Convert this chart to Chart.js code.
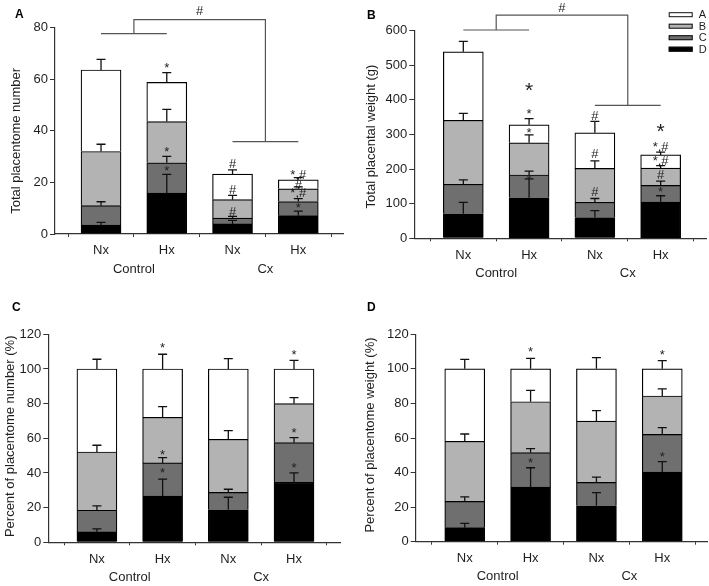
<!DOCTYPE html>
<html>
<head>
<meta charset="utf-8">
<script src="https://cdn.jsdelivr.net/npm/chart.js@4.4.1/dist/chart.umd.min.js"></script>
<style>
  html, body { margin: 0; padding: 0; background: #fff; }
  #fig { position: relative; width: 709px; height: 586px; }
  .panel { position: absolute; }
</style>
</head>
<body>
<div id="fig">
  <div class="panel" style="left:0;top:0;width:355px;height:290px"><canvas id="chartA"></canvas></div>
  <div class="panel" style="left:355px;top:0;width:354px;height:290px"><canvas id="chartB"></canvas></div>
  <div class="panel" style="left:0;top:290px;width:355px;height:296px"><canvas id="chartC"></canvas></div>
  <div class="panel" style="left:355px;top:290px;width:354px;height:296px"><canvas id="chartD"></canvas></div>
</div>
<script>
// categories
const xLabels = ['Nx', 'Hx', 'Nx', 'Hx'];
const groupLabels = ['Control', 'Cx'];
const layerNames = ['D', 'C', 'B', 'A']; // bottom -> top of each stack

// A: total placentome number
const numD = [3.5, 15.9, 3.9, 7.1];
const numC = [7.5, 11.7, 2.3, 5.5];
const numB = [21.0, 16.0, 7.1, 4.9];
const numA = [31.6, 15.2, 9.9, 3.5];
const numErrD = [1.0, 7.2, 1.4, 1.8];
const numErrC = [1.5, 2.5, 0.6, 1.1];
const numErrB = [2.8, 4.7, 1.7, 0.8];
const numErrA = [4.1, 3.8, 1.7, 0.9];

// B: total placental weight (g)
const wtD = [71, 117, 60, 105];
const wtC = [85, 66, 44, 48];
const wtB = [185, 93, 98, 50];
const wtA = [198, 52, 103, 38];
const wtErrD = [33, 55, 20, 18];
const wtErrC = [13, 11, 11, 12];
const wtErrB = [20, 23, 22, 7];
const wtErrA = [30, 18, 33, 8];

// C: percent of placentome number
const pnD = [6.0, 26.7, 18.8, 34.6];
const pnC = [12.5, 19.1, 10.0, 22.9];
const pnB = [33.6, 26.3, 30.6, 22.5];
const pnA = [47.9, 27.9, 40.6, 20.0];
const pnErrD = [1.7, 9.8, 7.2, 5.4];
const pnErrC = [2.5, 3.0, 1.8, 2.9];
const pnErrB = [3.9, 6.2, 5.0, 3.5];
const pnErrA = [5.6, 8.5, 6.0, 5.0];

// D: percent of placentome weight
const pwD = [8.1, 31.6, 20.8, 40.3];
const pwC = [15.2, 19.9, 13.5, 21.8];
const pwB = [34.8, 29.5, 35.5, 22.2];
const pwA = [41.9, 19.0, 30.2, 15.7];
const pwErrD = [2.5, 11.2, 7.6, 6.0];
const pwErrC = [2.6, 2.3, 3.1, 3.9];
const pwErrB = [4.2, 6.6, 6.0, 4.1];
const pwErrA = [5.5, 6.1, 6.5, 4.8];

// significance marks: [category, value, text, big]
const numMarks = [[1, 65.5, '*'], [1, 32.8, '*'], [1, 25.5, '*'],
  [2, 27.0, '#'], [2, 16.8, '#'], [2, 8.5, '#'],
  [3, 22.9, '*,#'], [3, 19.0, '#'], [3, 15.8, '*,#'], [3, 11.2, '*']];
const wtMarks = [[1, 438, '*', true], [1, 366, '*'], [1, 313, '*'], [1, 177, '*'],
  [2, 351, '#'], [2, 241, '#'], [2, 132, '#'],
  [3, 321, '*', true], [3, 262, '*,#'], [3, 221, '*,#'], [3, 183, '#'], [3, 140, '*']];
const pnMarks = [[1, 113.3, '*'], [1, 51.7, '*'], [1, 41.5, '*'],
  [3, 109.8, '*'], [3, 64.8, '*'], [3, 44.4, '*']];
const pwMarks = [[1, 111.3, '*'], [1, 46.9, '*'], [3, 109.6, '*'], [3, 50.6, '*']];

// brackets: [left bar level, top level, right bar level, label level]
const numBracket = [77.7, 83.1, 35.8, 86.2];
const wtBracket = [602, 645, 384, 664];

const layerColors = ['#000000', '#6f6f6f', '#b3b3b3', '#ffffff'];
const FONT = '"Liberation Sans", Arial, sans-serif';
const INK = '#1e1e1e';

const errorBars = {
  id: 'errorBars',
  afterDatasetsDraw(chart) {
    const { ctx } = chart;
    const yScale = chart.scales.y;
    const sets = chart.data.datasets;
    ctx.save();
    ctx.strokeStyle = '#111';
    ctx.lineWidth = 1.3;
    sets.forEach((ds, di) => {
      chart.getDatasetMeta(di).data.forEach((bar, j) => {
        let cum = 0;
        for (let k = 0; k <= di; k++) cum += sets[k].data[j].y;
        const top = yScale.getPixelForValue(cum + ds.errors[j]);
        ctx.beginPath();
        ctx.moveTo(bar.x, bar.y);
        ctx.lineTo(bar.x, top);
        ctx.moveTo(bar.x - 4.5, top);
        ctx.lineTo(bar.x + 4.5, top);
        ctx.stroke();
      });
    });
    ctx.restore();
  }
};

function extras(p) {
  return {
    id: 'extras',
    afterDraw(chart) {
      const { ctx, chartArea } = chart;
      const px = v => chart.scales.x.getPixelForValue(v);
      const py = v => chart.scales.y.getPixelForValue(v);
      ctx.save();
      ctx.fillStyle = INK;
      ctx.textAlign = 'center';
      ctx.textBaseline = 'middle';

      // y axis title
      ctx.save();
      ctx.font = '13px ' + FONT;
      ctx.translate(p.titleX, (chartArea.top + chartArea.bottom) / 2 + p.titleShift);
      ctx.rotate(-Math.PI / 2);
      ctx.fillText(p.title, 0, 0);
      ctx.restore();

      // group labels under the tick labels
      ctx.font = '13px ' + FONT;
      ctx.fillText(groupLabels[0], px(0.5), chartArea.bottom + 35);
      ctx.fillText(groupLabels[1], px(2.5), chartArea.bottom + 35);

      // significance marks
      p.marks.forEach(([i, v, t, big]) => {
        const size = big ? 21 : 13;
        ctx.font = size + 'px ' + FONT;
        const off = t === '*' ? size * 0.23 : 0;
        ctx.fillText(t, px(i), py(v) + off);
      });

      // bracket
      if (p.bracket) {
        const [l, top, r, lab] = p.bracket;
        ctx.strokeStyle = '#555';
        ctx.lineWidth = 1.2;
        ctx.beginPath();
        ctx.moveTo(px(0), py(l)); ctx.lineTo(px(1), py(l));
        ctx.moveTo(px(0.5), py(l)); ctx.lineTo(px(0.5), py(top));
        ctx.lineTo(px(2.5), py(top)); ctx.lineTo(px(2.5), py(r));
        ctx.moveTo(px(2), py(r)); ctx.lineTo(px(3), py(r));
        ctx.stroke();
        ctx.font = '13px ' + FONT;
        ctx.fillText('#', px(1.5), py(lab));
      }

      // legend
      if (p.legend) {
        ctx.font = '11px ' + FONT;
        ctx.textAlign = 'left';
        ctx.lineWidth = 1;
        ctx.strokeStyle = '#111';
        for (let k = 0; k < 4; k++) {
          const li = 3 - k;
          const bx = chartArea.right - 38;
          const by = chartArea.top - 18.5 + k * 11.5;
          ctx.fillStyle = layerColors[li];
          ctx.fillRect(bx, by, 24, 5);
          ctx.strokeRect(bx + 0.5, by + 0.5, 23, 4);
          ctx.fillStyle = INK;
          ctx.fillText(layerNames[li], bx + 30, by + 3);
        }
      }

      // panel letter
      ctx.font = 'bold 12px ' + FONT;
      ctx.textAlign = 'left';
      ctx.textBaseline = 'alphabetic';
      ctx.fillStyle = '#000';
      ctx.fillText(p.letter, p.letterPos[0], p.letterPos[1]);
      ctx.restore();
    }
  };
}

function makePanel(id, p) {
  const datasets = p.layers.map((vals, k) => ({
    label: layerNames[k],
    data: vals.map((v, i) => ({ x: i, y: v })),
    errors: p.errors[k],
    backgroundColor: layerColors[k],
    borderColor: '#000',
    borderWidth: 1.2,
    barThickness: 40,
    stack: 's'
  }));
  return new Chart(document.getElementById(id), {
    type: 'bar',
    data: { datasets },
    options: {
      responsive: true,
      maintainAspectRatio: false,
      animation: false,
      layout: { padding: { left: 0, right: p.padRight, top: p.padTop, bottom: 0 } },
      plugins: { legend: { display: false }, tooltip: { enabled: false } },
      scales: {
        x: {
          type: 'linear',
          offset: false,
          min: p.xMin,
          max: p.xMax,
          grid: { display: true, drawOnChartArea: false, drawTicks: true, tickLength: 3, color: '#333' },
          border: { display: true, color: '#333', width: 1.2 },
          afterBuildTicks: axis => { axis.ticks = xLabels.map((_, i) => ({ value: i })); },
          afterFit: s => { s.height = p.xHeight; },
          ticks: {
            autoSkip: false,
            maxRotation: 0,
            padding: 6,
            color: INK,
            font: { family: FONT, size: 13 },
            callback: v => xLabels[v]
          }
        },
        y: {
          stacked: true,
          min: 0,
          max: p.yMax,
          grid: { display: true, drawOnChartArea: false, drawTicks: true, tickLength: 5, color: '#333' },
          border: { display: true, color: '#333', width: 1.2 },
          afterFit: s => { s.width = p.yWidth; },
          ticks: { stepSize: p.yStep, padding: 2, color: INK, font: { family: FONT, size: 13 } }
        }
      }
    },
    plugins: [errorBars, extras(p)]
  });
}

makePanel('chartA', {
  layers: [numD, numC, numB, numA],
  errors: [numErrD, numErrC, numErrB, numErrA],
  yMax: 80, yStep: 20, title: 'Total placentome number', titleX: 16, titleShift: 10,
  marks: numMarks, bracket: numBracket, letter: 'A', letterPos: [15, 18],
  yWidth: 55, xHeight: 56, padTop: 27.7, padRight: 12, xMin: -0.70, xMax: 3.68
});
makePanel('chartB', {
  layers: [wtD, wtC, wtB, wtA],
  errors: [wtErrD, wtErrC, wtErrB, wtErrA],
  yMax: 600, yStep: 100, title: 'Total placental weight (g)', titleX: 16, titleShift: 2,
  marks: wtMarks, bracket: wtBracket, legend: true, letter: 'B', letterPos: [12, 19],
  yWidth: 59.3, xHeight: 51.7, padTop: 30.7, padRight: 2.3, xMin: -0.745, xMax: 3.70
});
makePanel('chartC', {
  layers: [pnD, pnC, pnB, pnA],
  errors: [pnErrD, pnErrC, pnErrB, pnErrA],
  yMax: 120, yStep: 20, title: 'Percent of placentome number (%)', titleX: 10, titleShift: -2,
  marks: pnMarks, letter: 'C', letterPos: [12, 21],
  yWidth: 48.3, xHeight: 43.7, padTop: 44.3, padRight: 15, xMin: -0.74, xMax: 3.70
});
makePanel('chartD', {
  layers: [pwD, pwC, pwB, pwA],
  errors: [pwErrD, pwErrC, pwErrB, pwErrA],
  yMax: 120, yStep: 20, title: 'Percent of placentome weight (%)', titleX: 15, titleShift: -3,
  marks: pwMarks, letter: 'D', letterPos: [12, 21],
  yWidth: 60.7, xHeight: 44.3, padTop: 44.3, padRight: 1.3, xMin: -0.745, xMax: 3.69
});
</script>
</body>
</html>
